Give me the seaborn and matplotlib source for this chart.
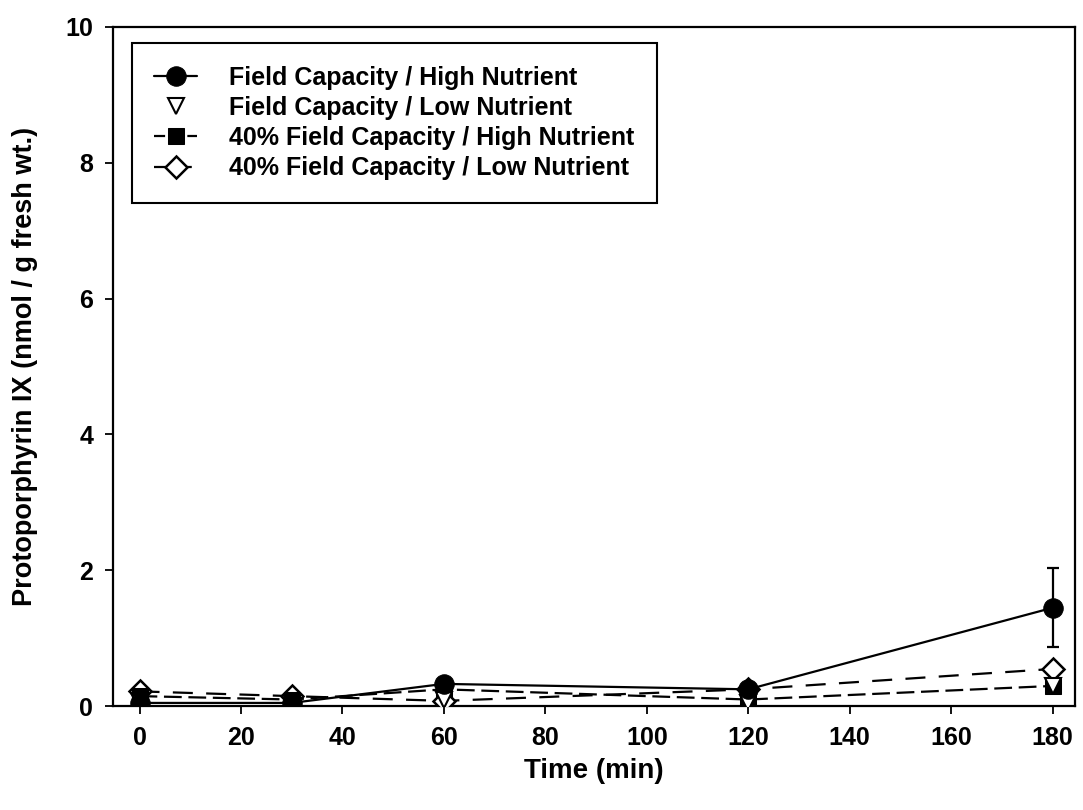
import numpy as np
import pandas as pd
import matplotlib
matplotlib.use("Agg")
import matplotlib.pyplot as plt
import seaborn as sns

time = [0, 30, 60, 120, 180]
fc_high = [0.05, 0.05, 0.33, 0.25, 1.45]
fc_high_err = [0.0, 0.0, 0.0, 0.0, 0.58]
fc_low = [0.05, 0.04, 0.10, 0.05, 0.30]
fc40_high = [0.15, 0.10, 0.25, 0.10, 0.30]
fc40_low = [0.22, 0.15, 0.08, 0.25, 0.55]
labels = ["Field Capacity / High Nutrient", "Field Capacity / Low Nutrient",
          "40% Field Capacity / High Nutrient", "40% Field Capacity / Low Nutrient"]

sns.set_theme(style="ticks")
plt.rcParams['font.family'] = ['Liberation Sans', 'DejaVu Sans']
plt.rcParams['text.color'] = 'black'
plt.rcParams['axes.labelcolor'] = 'black'

fig = plt.figure(figsize=(10.83, 8.10), dpi=100)
ax = fig.add_axes([0.104, 0.128, 0.889, 0.839])

lw = 1.6
dash_low = (0, (9, 6))
dash_high = (0, (8, 3))
# 40% FC / Low nutrient: open diamond, long dashes
sns.lineplot(x=time, y=fc40_low, ax=ax, color="black", lw=lw, linestyle=dash_low,
             marker="D", markersize=11, markerfacecolor="white", markeredgecolor="black",
             markeredgewidth=1.8, label=labels[3], zorder=3)
# 40% FC / High nutrient: filled square, dashed
sns.lineplot(x=time, y=fc40_high, ax=ax, color="black", lw=lw, linestyle=dash_high,
             marker="s", markersize=11, markerfacecolor="black", markeredgecolor="black",
             label=labels[2], zorder=3)
# FC / Low nutrient: open triangle down, no line
sns.lineplot(x=time, y=fc_low, ax=ax, color="black", lw=0, marker="v", markersize=11,
             markerfacecolor="white", markeredgecolor="black", markeredgewidth=1.5,
             label=labels[1], zorder=3)
# FC / High nutrient: filled circle, solid
sns.lineplot(x=time, y=fc_high, ax=ax, color="black", lw=lw, marker="o", markersize=14,
             markerfacecolor="black", markeredgecolor="black", label=labels[0], zorder=4)
err_idx = [i for i, e in enumerate(fc_high_err) if e > 0]
ax.errorbar([time[i] for i in err_idx], [fc_high[i] for i in err_idx],
            yerr=[fc_high_err[i] for i in err_idx], fmt="none", ecolor="black",
            elinewidth=1.6, capsize=4.5, capthick=1.6, zorder=2)

ax.set_xlim(-5.3, 184.5)
ax.set_ylim(0, 10)
ax.set_xticks(np.arange(0, 181, 20))
ax.set_yticks(np.arange(0, 11, 2))
for s in ax.spines.values():
    s.set_visible(True)
    s.set_linewidth(1.6)
    s.set_color("black")
ax.tick_params(direction="out", length=6, width=1.3, labelsize=18, colors="black", pad=8)
for t in ax.get_xticklabels() + ax.get_yticklabels():
    t.set_fontweight("bold")
ax.set_xlabel("Time (min)", fontsize=20, fontweight="bold", labelpad=6)
ax.set_ylabel("Protoporphyrin IX (nmol / g fresh wt.)", fontsize=19.5, fontweight="bold", labelpad=20)

handles, labs = ax.get_legend_handles_labels()
order = [labs.index(l) for l in labels]
leg = ax.legend([handles[i] for i in order], [labs[i] for i in order],
                loc="upper left", bbox_to_anchor=(0.02, 0.976), fontsize=18,
                frameon=True, fancybox=False, edgecolor="black", framealpha=1,
                borderpad=0.9, handlelength=1.7, labelspacing=0.25, handletextpad=1.3,
                borderaxespad=0)
leg.get_frame().set_linewidth(1.5)
for t in leg.get_texts():
    t.set_fontweight("bold")
    t.set_color("black")
leg_styles = ["-", "None", (0, (5, 2.5)), (0, (7, 3))]
for ln, st in zip(leg.get_lines(), leg_styles):
    ln.set_linestyle(st)

fig.savefig("out.png", dpi=100)
